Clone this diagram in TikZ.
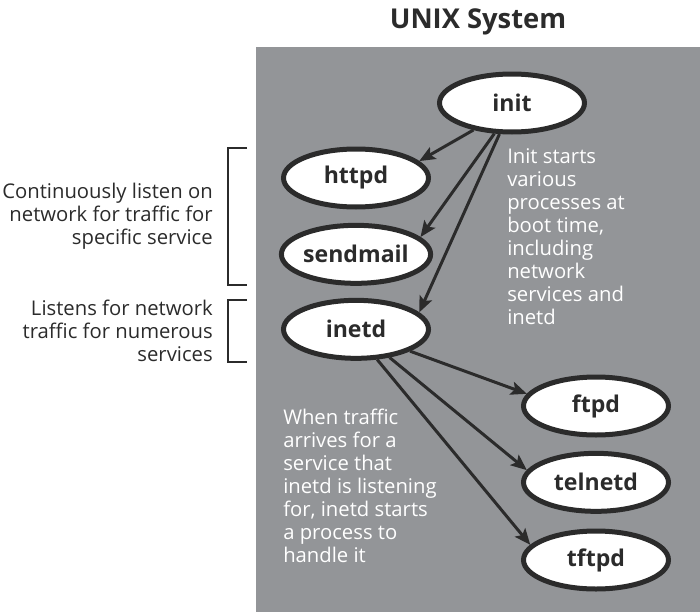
\documentclass[tikz,border=0pt]{standalone}
\usepackage{fontspec}
\setmainfont{Open Sans}
\usepackage{xcolor}
\usepackage{tikz}
\usetikzlibrary{shapes,arrows.meta,positioning}

\definecolor{panelgray}{RGB}{147,149,152}
\definecolor{inkdark}{RGB}{43,43,43}

\begin{document}
\begin{tikzpicture}[x=0.75pt,y=-0.75pt,
	proc/.style={ellipse, draw=inkdark, line width=3.75pt, fill=white, inner sep=0pt, minimum width=108.75pt, minimum height=43.5pt, text=inkdark, font=\fontsize{17.3}{19}\selectfont\bfseries},
	spawn/.style={-{Stealth[length=12pt,width=10pt,inset=2.5pt]}, line width=2.25pt, draw=inkdark},
	note/.style={inner sep=0pt, font=\fontsize{15.2}{17.25}\selectfont},
	bracket/.style={line width=1.5pt, draw=inkdark}]
				\useasboundingbox (0,0) rectangle (700,614);
				\fill[panelgray] (256,47) rectangle (700,612);
				\node[anchor=base, text=inkdark, font=\fontsize{20.5}{24}\selectfont\bfseries] (title) at (478,28) {UNIX System};
				
				\node[proc] (init) at (512,103) {init};
				\node[proc] (httpd) at (356,178) {httpd};
				\node[proc, below=10pt of httpd] (sendmail) {sendmail};
				\node[proc, below=9pt of sendmail] (inetd) {inetd};
				\node[proc] (ftpd) at (596,406) {ftpd};
				\node[proc, below=10pt of ftpd] (telnetd) {telnetd};
				\node[proc, below=11pt of telnetd] (tftpd) {tftpd};
				
				\node[note, text=white, anchor=north west, align=left] (bootnote) at (507,148) {Init starts\\various\\processes at\\boot time,\\including\\network\\services and\\inetd};
				\node[note, text=white, anchor=north west, align=left] (inetdnote) at (283,409) {When traffic\\arrives for a\\service that\\inetd is listening\\for, inetd starts\\a process to\\handle it};
				\node[note, text=inkdark, anchor=east, align=right] (listennote) at (213,216) {Continuously listen on\\network for traffic for\\specific service};
				\node[note, text=inkdark, anchor=east, align=right] (multinote) at (213,331) {Listens for network\\traffic for numerous\\services};
				
				\draw[bracket] (247,148) -| (228,285) -- (247,285);
				\draw[bracket] (247,300) -| (228,362) -- (247,362);
				
				\draw[spawn] (init.215) -- (httpd.15);
				\draw[spawn] (init.240) -- (sendmail.15);
				\draw[spawn] (init.248) -- (inetd.15);
				\draw[spawn] (inetd.338) -- (ftpd.170);
				\draw[spawn] (inetd.320) -- (telnetd.170);
				\draw[spawn] (inetd.305) -- (tftpd.167);
			\end{tikzpicture}
\end{document}
